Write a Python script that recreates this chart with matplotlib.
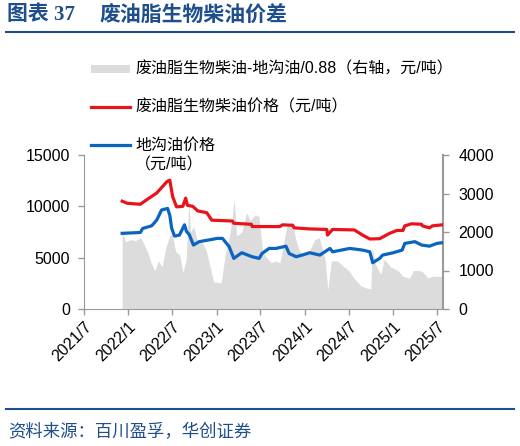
import pandas as pd
import matplotlib
matplotlib.use('Agg')
import matplotlib.pyplot as plt
from matplotlib.lines import Line2D
from matplotlib.patches import Rectangle

plt.rcParams['font.family'] = ['Liberation Sans', 'Noto Sans CJK SC', 'DejaVu Sans']

# 废油脂生物柴油价格（元/吨）
bio_dates = ['2021-12-06', '2021-12-27', '2022-02-19', '2022-03-18', '2022-04-28', '2022-06-09',
             '2022-06-21', '2022-07-03', '2022-07-19', '2022-08-14', '2022-08-26', '2022-09-02',
             '2022-09-24', '2022-10-15', '2022-11-21', '2022-12-12', '2023-03-07', '2023-03-13',
             '2023-05-25', '2023-05-28', '2023-09-19', '2023-10-01', '2023-11-12', '2023-11-18',
             '2024-01-21', '2024-04-01', '2024-04-04', '2024-04-25', '2024-07-24', '2024-08-27',
             '2024-09-26', '2024-11-06', '2024-12-17', '2025-01-16', '2025-02-10', '2025-02-18',
             '2025-03-18', '2025-04-28', '2025-05-02', '2025-05-31', '2025-06-12', '2025-07-24']
bio_price = [10500, 10300, 10200, 10650, 11300, 12400,
             12550, 10950, 9950, 10000, 10800, 10100,
             10000, 9550, 9380, 8650, 8570, 8350,
             8250, 8030, 8030, 8200, 8150, 7900,
             7800, 7750, 7200, 7750, 7700, 7200,
             6820, 6850, 7370, 7650, 7650, 8100,
             8300, 8250, 8100, 7900, 8100, 8200]

# 地沟油价格（元/吨）
uco_dates = ['2021-12-06', '2022-02-19', '2022-03-01', '2022-04-07', '2022-04-28', '2022-05-18',
             '2022-06-12', '2022-06-21', '2022-06-29', '2022-07-11', '2022-07-31', '2022-08-21',
             '2022-08-29', '2022-09-10', '2022-09-27', '2022-10-21', '2022-12-15', '2023-01-04',
             '2023-01-25', '2023-02-22', '2023-03-13', '2023-04-15', '2023-05-28', '2023-06-26',
             '2023-07-08', '2023-08-06', '2023-09-04', '2023-10-15', '2023-10-28', '2023-11-26',
             '2023-12-21', '2024-01-21', '2024-03-03', '2024-04-14', '2024-04-25', '2024-07-05',
             '2024-08-27', '2024-09-26', '2024-10-08', '2024-11-06', '2024-11-18', '2025-01-01',
             '2025-02-07', '2025-02-18', '2025-04-01', '2025-04-28', '2025-05-31', '2025-07-01',
             '2025-07-24']
uco_price = [7370, 7450, 7850, 8100, 8660, 9640,
             9800, 9150, 7850, 7100, 7200, 8200,
             7560, 7230, 6230, 6560, 6790, 6880,
             6880, 6070, 4930, 5480, 5090, 4930,
             5410, 5900, 5900, 6120, 5410, 5090,
             5250, 5480, 5250, 5900, 5570, 5900,
             5740, 5570, 4510, 4930, 5250, 5480,
             5740, 6390, 6560, 6230, 6120, 6390,
             6460]

# 废油脂生物柴油-地沟油/0.88（右轴，元/吨）
spread_dates = ['2021-12-06', '2021-12-20', '2022-01-10', '2022-01-31', '2022-02-20', '2022-03-05',
                '2022-03-20', '2022-04-05', '2022-04-20', '2022-05-05', '2022-05-20', '2022-06-05',
                '2022-06-20', '2022-07-01', '2022-07-15', '2022-08-01', '2022-08-15', '2022-08-28',
                '2022-09-08', '2022-09-15', '2022-09-28', '2022-10-15', '2022-11-01', '2022-11-20',
                '2022-12-05', '2022-12-20', '2023-01-20', '2023-02-05', '2023-02-20', '2023-03-05',
                '2023-03-15', '2023-03-25', '2023-04-15', '2023-05-05', '2023-05-20', '2023-06-10',
                '2023-06-25', '2023-07-10', '2023-07-25', '2023-08-15', '2023-09-01', '2023-09-20',
                '2023-10-05', '2023-10-20', '2023-11-10', '2023-11-25', '2023-12-10', '2023-12-28',
                '2024-01-20', '2024-02-10', '2024-03-01', '2024-03-25', '2024-04-05', '2024-04-20',
                '2024-05-15', '2024-06-10', '2024-07-01', '2024-07-25', '2024-08-20', '2024-09-10',
                '2024-09-30', '2024-10-06', '2024-10-20', '2024-11-10', '2024-11-25', '2024-12-20',
                '2025-01-20', '2025-02-10', '2025-03-10', '2025-03-25', '2025-04-20', '2025-05-05',
                '2025-05-25', '2025-06-10', '2025-07-24']
spread = [2000, 1750, 1800, 1780, 1850, 1700,
          1500, 1200, 1000, 1250, 1100, 1600,
          1900, 1950, 1500, 1400, 950, 1300,
          2800, 2000, 2150, 1700, 1750, 1500,
          1100, 700, 680, 1400, 1800, 2300,
          2850, 1900, 2000, 2500, 2300, 2450,
          2400, 1500, 1350, 1200, 1250, 1200,
          1700, 2200, 2250, 1800, 1500, 1400,
          1500, 1800, 1850, 1300, 500, 1250,
          1250, 1100, 1000, 780, 600, 550,
          520, 1600, 1150, 900, 1300, 1100,
          1000, 850, 800, 1000, 1000, 950,
          800, 850, 850]

x_ticks = ['2021-07-01', '2022-01-01', '2022-07-01', '2023-01-01', '2023-07-01',
           '2024-01-01', '2024-07-01', '2025-01-01', '2025-07-01']
x_labels = ['2021/7', '2022/1', '2022/7', '2023/1', '2023/7',
            '2024/1', '2024/7', '2025/1', '2025/7']

navy = '#1f4e8c'
red = '#e8141c'
blue = '#0a64c0'
gray_fill = '#dcdcdc'
spine_gray = '#9a9a9a'

fig = plt.figure(figsize=(5.2, 4.46), dpi=100)
ax = fig.add_axes([84/520, 1-309/446, (443-84)/520, (309-155)/446])
ax2 = ax.twinx()

ax2.fill_between(pd.to_datetime(spread_dates), spread, 0, color=gray_fill, linewidth=0)
ax.plot(pd.to_datetime(bio_dates), bio_price, color=red, linewidth=2.3, solid_joinstyle='round')
ax.plot(pd.to_datetime(uco_dates), uco_price, color=blue, linewidth=2.3, solid_joinstyle='round')

ax.set_zorder(ax2.get_zorder() + 1)
ax.patch.set_visible(False)

ax.set_xlim(pd.Timestamp('2021-07-01'), pd.Timestamp('2025-07-26'))
ax.set_ylim(0, 15000)
ax2.set_ylim(0, 4000)
ax.set_yticks([0, 5000, 10000, 15000])
ax2.set_yticks([0, 1000, 2000, 3000, 4000])
ax.set_xticks(pd.to_datetime(x_ticks))
ax.set_xticklabels(x_labels, rotation=45, ha='right', rotation_mode='anchor')

for a in (ax, ax2):
    a.spines['top'].set_visible(False)
    a.tick_params(colors=spine_gray, labelcolor='black', labelsize=11.5, length=4, width=1)
ax.spines['right'].set_visible(False)
ax2.spines['left'].set_visible(False)
ax2.spines['bottom'].set_visible(False)
ax.spines['left'].set_color(spine_gray)
ax.spines['bottom'].set_color(spine_gray)
ax2.spines['right'].set_color(spine_gray)
ax2.spines['right'].set_linewidth(1.5)
ax.tick_params(axis='x', pad=3)
ax.tick_params(axis='y', pad=6)
ax2.tick_params(axis='y', pad=7)

# 图例
lx0, lx1, tx = 91/520, 130/520, 135/520
rows = [1-69/446, 1-107/446, 1-145/446]
fig.add_artist(Rectangle((lx0, rows[0]-4/446), lx1-lx0, 8/446, transform=fig.transFigure,
                         color=gray_fill, linewidth=0))
fig.add_artist(Line2D([lx0, lx1], [rows[1], rows[1]], transform=fig.transFigure, color=red, linewidth=2.3))
fig.add_artist(Line2D([lx0, lx1], [rows[2], rows[2]], transform=fig.transFigure, color=blue, linewidth=2.3))
fig.text(tx, rows[0], '废油脂生物柴油-地沟油/0.88（右轴，元/吨）', fontsize=11.5, va='center')
fig.text(tx, rows[1], '废油脂生物柴油价格（元/吨）', fontsize=11.5, va='center')
fig.text(tx, rows[2], '地沟油价格', fontsize=11.5, va='center')
fig.text(tx, 1-165/446, '（元/吨）', fontsize=11.5, va='center')

# 标题与来源
fig.text(7/520, 1-15/446, '图表 37', fontsize=15, fontweight='bold', color=navy, va='center',
         family=['Liberation Serif', 'Noto Sans CJK SC'])
fig.text(100/520, 1-15/446, '废油脂生物柴油价差', fontsize=15, fontweight='bold', color=navy, va='center',
         family=['Noto Sans CJK SC'])
fig.add_artist(Line2D([6/520, 514/520], [1-32/446, 1-32/446], transform=fig.transFigure, color=navy, linewidth=1.5))
fig.add_artist(Line2D([6/520, 514/520], [1-409/446, 1-409/446], transform=fig.transFigure, color=navy, linewidth=1.5))
fig.text(8/520, 1-432/446, '资料来源：百川盈孚，华创证券', fontsize=12.5, color=navy, va='center',
         family=['Noto Sans CJK SC'])

fig.savefig('out.png', dpi=100)
